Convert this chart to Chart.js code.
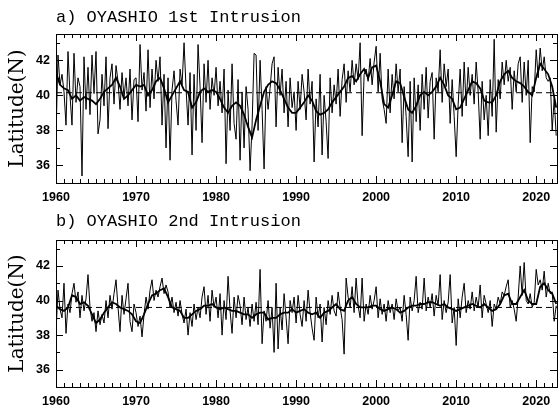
<!DOCTYPE html>
<html><head><meta charset="utf-8">
<script src="https://cdn.jsdelivr.net/npm/chart.js@4.4.1/dist/chart.umd.min.js"></script>
<style>
html,body{margin:0;padding:0;background:#fff;}
#wrap{position:relative;width:558px;height:408px;overflow:hidden;background:#fff;}
canvas{position:absolute;left:0;}
#cA{top:0;width:558px;height:205px;}
#cB{top:205px;width:558px;height:203px;}
</style></head><body>
<div id="wrap"><canvas id="cA" width="558" height="205"></canvas><canvas id="cB" width="558" height="203"></canvas></div>
<script>
// ---- axes / labels ----
const startYear = 1960;
const xMin = 1960, xMax = 2022.6;
const yMin = 35, yMax = 43.5;
const xTickYears = [1960, 1970, 1980, 1990, 2000, 2010, 2020];
const yTickValues = [36, 38, 40, 42];
const titleA = 'a) OYASHIO 1st Intrusion';
const titleB = 'b) OYASHIO 2nd Intrusion';
const yAxisTitle = 'Latitude(N)';
const meanA = 40.15;
const meanB = 39.6;

// ---- panel a: quarterly values (1960.00 ... 2022.50) ----
const thinA = [
 37.6,42.3,40.6,41.2, 40.2,38.3,42.5,40.0, 38.3,42.4,39.6,41.0, 40.5,35.4,42.2,39.2,
 41.6,38.9,42.3,40.1, 42.5,37.8,38.6,41.2, 39.4,42.2,38.1,41.0, 41.8,39.5,41.7,40.8,
 39.2,41.3,39.9,41.0, 39.4,41.5,38.6,40.9, 41.0,38.5,42.9,40.3, 41.3,39.1,42.6,39.3,
 41.5,39.8,42.0,40.8, 42.2,38.3,41.2,37.0, 41.0,36.3,40.3,41.4, 39.7,38.3,41.5,40.6,
 43.0,40.4,38.3,41.3, 36.6,41.2,38.0,42.9, 40.5,37.3,41.8,39.6, 42.0,39.2,41.0,40.0,
 41.6,39.4,40.8,39.0, 41.5,36.1,40.3,38.0, 41.8,38.4,37.5,40.9, 36.3,40.2,37.0,40.5,
 39.2,35.7,38.3,42.4, 42.3,38.0,42.0,39.2, 35.8,40.5,39.2,40.4, 41.8,42.2,38.2,41.6,
 40.0,41.5,39.0,40.8, 38.2,41.0,39.3,40.2, 38.0,40.8,39.2,41.2, 40.2,38.6,41.5,39.5,
 40.8,36.2,39.8,38.2, 41.2,36.6,40.0,38.5, 36.4,41.0,39.0,40.6, 39.5,41.5,38.8,40.9,
 41.8,39.6,41.4,40.2, 42.0,40.6,41.8,40.9, 43.0,37.7,41.2,41.5, 40.8,42.1,40.6,41.9,
 42.8,40.2,42.4,39.8, 39.2,38.4,41.5,39.0, 41.2,39.8,41.8,40.2, 41.5,37.3,40.5,38.8,
 36.5,40.8,36.2,41.0, 38.5,40.6,38.0,41.2, 39.2,41.6,38.7,40.8, 41.3,37.5,41.0,40.2,
 42.6,39.6,41.8,40.5, 41.5,38.4,40.9,38.8, 36.5,39.5,41.5,38.8, 41.9,39.4,41.6,40.0,
 41.2,39.5,41.9,40.2, 37.5,40.8,38.6,40.0, 37.7,40.9,38.8,43.2, 37.9,40.9,39.8,41.9,
 40.6,42.0,40.8,41.6, 39.2,41.4,40.2,41.8, 42.2,39.6,41.9,40.0, 42.0,37.3,40.5,40.2,
 42.6,41.0,42.7,41.4, 42.2,41.0,40.8,41.0, 38.0,39.8,37.7
];
// ---- panel a: smoothed, half-yearly (1960.0 ... 2022.5) ----
const thickA = [
 41.3,40.6, 40.4,40.3, 39.8,40.0, 39.7,39.9, 39.8,39.7, 39.5,39.8, 40.2,40.4, 40.6,41.0,
 40.5,39.8, 40.0,40.3, 40.6,40.5, 40.6,40.0, 40.3,40.8, 41.0,40.4, 39.6,40.0, 40.4,40.8,
 40.3,40.2, 39.3,39.6, 40.2,40.4, 40.2,40.3, 40.2,39.8, 39.3,39.0, 39.4,39.6, 39.4,38.9,
 38.2,37.6, 38.6,39.4, 40.2,40.6, 40.8,40.7, 40.3,39.8, 39.3,39.0, 39.0,39.3, 39.6,40.0,
 39.7,39.1, 38.9,39.0, 39.2,39.6, 39.9,40.2, 40.5,41.0, 41.1,40.8, 41.2,41.5, 41.0,41.6,
 41.7,40.8, 39.5,39.3, 40.0,40.8, 40.7,39.9, 39.2,39.0, 39.4,40.0, 40.2,40.0, 40.2,40.5,
 41.0,40.6, 40.0,39.8, 39.2,39.3, 39.8,40.3, 40.8,40.7, 40.4,39.7, 39.6,39.6, 40.0,40.8,
 41.2,41.4, 41.0,40.8, 40.7,40.5, 40.2,40.0, 41.0,41.8, 41.5,41.2, 40.5,39.3
];

// ---- panel b: quarterly values (1960.00 ... 2022.50) ----
const thinB = [
 38.2,40.6,39.5,39.0, 41.0,38.1,39.8,39.3, 40.4,41.0,39.9,40.5, 39.0,40.3,39.4,40.1,
 41.5,39.6,38.8,39.3, 38.2,39.4,38.6,39.2, 38.7,40.0,39.0,40.3, 39.5,40.4,41.2,39.6,
 38.2,40.3,39.2,40.1, 41.0,38.8,38.2,39.8, 39.3,38.5,39.1,37.9, 39.2,40.2,39.5,40.6,
 41.2,40.0,40.6,40.2, 40.8,41.3,40.4,40.9, 40.5,39.6,40.2,39.3, 39.9,39.1,40.0,39.2,
 38.7,39.5,38.0,39.3, 38.5,39.8,38.9,39.6, 39.0,40.2,40.8,39.2, 40.3,38.8,40.6,39.6,
 40.2,39.0,40.4,38.0, 40.0,38.9,41.4,39.4, 38.1,40.2,39.0,40.3, 39.7,38.6,40.2,38.9,
 39.6,38.5,39.8,38.8, 39.9,38.6,41.8,37.5, 39.4,38.8,40.0,38.4, 39.6,37.0,41.0,37.2,
 39.6,38.3,40.4,39.0, 37.5,40.0,39.3,40.2, 38.7,40.3,39.2,38.5, 40.0,38.8,40.6,39.3,
 38.4,37.7,40.2,39.0, 39.8,37.6,39.6,38.6, 40.0,39.2,40.3,39.4, 39.1,40.5,39.6,38.9,
 36.9,41.3,40.2,39.6, 40.8,39.3,41.3,39.7, 39.0,41.3,38.8,39.8, 39.2,40.3,39.5,40.0,
 40.8,39.0,40.1,39.2, 39.8,38.8,40.0,39.3, 39.8,38.9,40.1,39.4, 39.6,38.8,40.3,39.2,
 37.7,40.2,39.4,40.0, 41.4,39.3,39.9,39.5, 41.3,39.4,40.2,39.6, 40.4,39.1,40.3,39.7,
 41.5,38.9,40.0,39.3, 39.9,41.5,38.7,39.6, 37.4,40.1,39.0,40.2, 41.0,39.3,40.0,39.5,
 40.5,39.4,40.2,39.6, 40.9,39.0,40.3,39.8, 39.3,40.0,38.5,39.8, 39.5,40.2,39.8,40.5,
 40.3,40.8,41.2,39.6, 40.0,39.5,38.8,40.2, 42.0,40.3,42.2,40.0, 39.8,40.4,39.6,39.9,
 41.8,40.9,41.2,40.6, 41.7,40.2,41.0,40.4, 40.5,38.8,39.7
];
// ---- panel b: smoothed, half-yearly (1960.0 ... 2022.5) ----
const thickB = [
 39.7,39.5, 39.4,39.6, 40.3,40.2, 39.8,39.9, 39.7,39.2, 38.7,38.9, 39.3,39.6, 39.9,39.8,
 39.6,39.5, 39.4,39.2, 38.8,38.7, 39.2,39.8, 40.3,40.4, 40.6,40.7, 40.2,39.6, 39.5,39.4,
 39.0,39.0, 39.2,39.4, 39.5,39.7, 39.7,39.8, 39.6,39.5, 39.6,39.5, 39.4,39.4, 39.3,39.2,
 39.2,39.0, 39.2,39.3, 39.3,38.9, 39.0,39.0, 39.2,39.3, 39.3,39.5, 39.3,39.4, 39.5,39.3,
 39.2,39.3, 39.0,39.3, 39.4,39.6, 39.8,39.5, 39.4,40.0, 40.2,39.8, 39.6,39.6, 39.6,39.7,
 39.7,39.5, 39.4,39.5, 39.6,39.5, 39.3,39.4, 39.6,39.7, 39.7,39.8, 39.8,39.9, 39.9,39.8,
 39.7,39.8, 39.6,39.5, 39.4,39.5, 39.6,39.7, 39.8,39.7, 39.6,39.8, 39.6,39.4, 39.5,39.8,
 40.3,40.4, 39.8,39.8, 40.2,40.6, 40.0,39.8, 39.8,40.8, 41.0,40.6, 40.4,39.8
];

function toPoints(values, perYear) {
  return values.map((v, i) => ({ x: startYear + i / perYear, y: v }));
}

const frameTicks = {
  id: 'frameTicks',
  afterDatasetsDraw(chart) {
    const { ctx, chartArea: a, scales } = chart;
    const xs = scales.x, ys = scales.y;
    ctx.save();
    ctx.strokeStyle = '#000';
    ctx.lineWidth = 1;
    ctx.beginPath();
    for (let yr = Math.ceil(xMin); yr <= xMax; yr++) {
      const px = Math.round(xs.getPixelForValue(yr)) + 0.5;
      const len = yr % 10 === 0 ? 7 : 4;
      ctx.moveTo(px, a.top); ctx.lineTo(px, a.top + len);
      ctx.moveTo(px, a.bottom); ctx.lineTo(px, a.bottom - len);
    }
    for (let v = Math.ceil(yMin); v <= yMax; v++) {
      const py = Math.round(ys.getPixelForValue(v)) + 0.5;
      const len = v % 2 === 0 ? 7 : 4;
      ctx.moveTo(a.left, py); ctx.lineTo(a.left + len, py);
      ctx.moveTo(a.right, py); ctx.lineTo(a.right - len, py);
    }
    ctx.stroke();
    ctx.strokeRect(Math.round(a.left) + 0.5, Math.round(a.top) + 0.5,
                   Math.round(a.right - a.left), Math.round(a.bottom - a.top));
    ctx.restore();
  }
};

function makeChart(id, title, thin, thick, mean, titlePad, topPad, xAxisH) {
  const ctx = document.getElementById(id);
  return new Chart(ctx, {
    type: 'line',
    data: {
      datasets: [
        { data: [{ x: xMin, y: mean }, { x: xMax, y: mean }], borderColor: '#000',
          borderWidth: 1, borderDash: [6, 4], pointRadius: 0, fill: false },
        { data: toPoints(thin, 4), borderColor: '#000', borderWidth: 1,
          pointRadius: 0, tension: 0, fill: false },
        { data: toPoints(thick, 2), borderColor: '#000', borderWidth: 1.8,
          pointRadius: 0, tension: 0, fill: false }
      ]
    },
    options: {
      responsive: false, animation: false, devicePixelRatio: 1,
      layout: { padding: { top: topPad, right: 1, left: 0, bottom: 0 } },
      plugins: {
        legend: { display: false }, tooltip: { enabled: false },
        title: { display: true, text: title, align: 'start', fullSize: false,
          color: '#000', font: { family: 'Liberation Mono', size: 17, weight: 'normal', lineHeight: 1 },
          padding: titlePad }
      },
      scales: {
        x: {
          type: 'linear', min: xMin, max: xMax,
          afterBuildTicks(s) { s.ticks = xTickYears.map(v => ({ value: v })); },
          afterFit(s) { s.height = xAxisH; },
          grid: { display: false, drawTicks: false }, border: { display: false },
          ticks: { autoSkip: false, maxRotation: 0, padding: 7, color: '#000',
            font: { family: 'Liberation Sans', size: 12.5, weight: 'bold' },
            callback: v => String(v) }
        },
        y: {
          min: yMin, max: yMax,
          afterBuildTicks(s) { s.ticks = yTickValues.map(v => ({ value: v })); },
          afterFit(s) { s.width = 56; },
          grid: { display: false, drawTicks: false }, border: { display: false },
          ticks: { padding: 6, color: '#000',
            font: { family: 'Liberation Sans', size: 12.5, weight: 'bold' },
            callback: v => String(v) },
          title: { display: true, text: yAxisTitle, color: '#000',
            font: { family: 'DejaVu Serif', size: 20, lineHeight: 1.2 },
            padding: { top: 6, bottom: 0 } }
        }
      }
    },
    plugins: [frameTicks]
  });
}

makeChart('cA', titleA, thinA, thickA, meanA, { top: 9.3, bottom: 7.7 }, 0, 22);
makeChart('cB', titleB, thinB, thickB, meanB, { top: 7.7, bottom: 10.3 }, 0, 21);
</script>
</body></html>
